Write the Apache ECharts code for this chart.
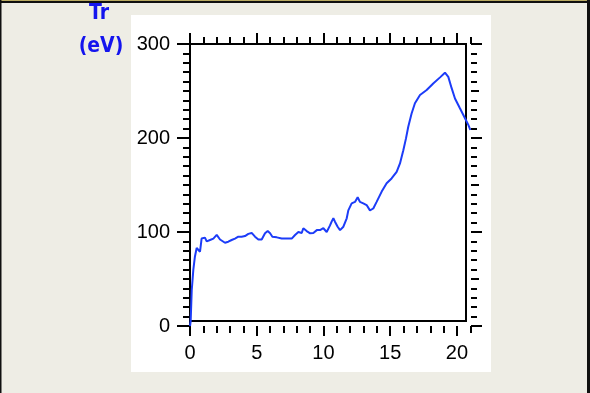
<!DOCTYPE html>
<html>
<head>
<meta charset="utf-8">
<script src="https://cdn.jsdelivr.net/npm/echarts@6/dist/echarts.min.js"></script>
<style>
html,body{margin:0;padding:0;background:#eeede5;}
#chart{width:590px;height:393px;}
</style>
</head>
<body>
<div id="chart"></div>
<script>
// ---- data (time, Tr in eV) ----
const timeVals = [0, 0.05, 0.13, 0.25, 0.37, 0.5, 0.62, 0.75, 0.87, 1.0, 1.12, 1.25, 1.37, 1.5, 1.62, 1.75, 1.87, 2.0, 2.1, 2.25, 2.37, 2.62, 2.87, 3.12, 3.37, 3.62, 3.87, 4.12, 4.37, 4.5, 4.62, 4.87, 5.12, 5.37, 5.62, 5.82, 6.0, 6.17, 6.5, 6.87, 7.12, 7.37, 7.62, 7.87, 8.12, 8.24, 8.37, 8.49, 8.74, 9.0, 9.24, 9.5, 9.74, 9.99, 10.24, 10.36, 10.49, 10.61, 10.74, 10.86, 11.06, 11.24, 11.49, 11.74, 11.86, 12.11, 12.36, 12.56, 12.73, 12.98, 13.23, 13.48, 13.73, 13.98, 14.36, 14.73, 15.1, 15.48, 15.73, 15.98, 16.18, 16.35, 16.6, 16.85, 17.23, 17.73, 18.22, 18.73, 19.1, 19.35, 19.6, 19.85, 20.22, 20.6, 20.85, 21.0];
const trVals = [0, 5, 38, 60, 74, 83, 84, 79, 93, 91.5, 94, 90, 88, 91.5, 92, 93, 95, 97, 95, 92, 90, 88.6, 89.7, 91.5, 93, 95, 95, 95.7, 98, 100, 99, 95, 92, 92, 98.6, 101, 98.6, 95, 94.3, 93, 93, 93, 93, 96.8, 100, 102, 99, 104, 101, 98.6, 99, 102, 102, 104, 100, 98.6, 107, 111, 114.6, 111, 105.6, 102, 105.6, 114.6, 123, 130.5, 132, 137, 132, 130.5, 128.7, 123, 125, 132, 143, 151.8, 157, 164, 173, 187, 199.6, 212, 226, 237, 245.7, 251, 258, 264.5, 269.5, 265, 253, 242, 231.6, 221, 214, 208.5];

// ---- axes / ticks ----
const xMin = 0, xMax = 21.05;
const yMin = 0, yMax = 300;
const xMajorTicks = [0, 5, 10, 15, 20];
const xMinorTicks = [1, 2, 3, 4, 6, 7, 8, 9, 11, 12, 13, 14, 16, 17, 18, 19, 21.05];
const yMajorTicks = [0, 100, 200, 300];
const yMidTicks = [50, 150, 250];
const yMinorTicks = [10, 20, 30, 40, 50, 60, 70, 80, 90, 110, 120, 130, 140, 150, 160, 170, 180, 190, 210, 220, 230, 240, 250, 260, 270, 280, 290];
const yRightMinorTicks = yMinorTicks.filter(v => v % 50 !== 0);
const titleLines = ['Tr', '(eV)'];

const chart = echarts.init(document.getElementById('chart'), null, {renderer: 'canvas'});

const tickStyle = {color: '#000', width: 2};
const labelFont = 'Liberation Sans, Arial, sans-serif';
function xAx(pos, ticks, len, labels) {
  return {
    type: 'value', position: pos, min: xMin, max: xMax, gridIndex: 0,
    axisLine: {show: false, onZero: false},
    axisTick: {show: true, inside: false, length: len, customValues: ticks, lineStyle: tickStyle},
    axisLabel: labels ? {show: true, customValues: ticks, fontSize: 20, margin: 17, color: '#000', fontFamily: labelFont} : {show: false},
    splitLine: {show: false}, minorTick: {show: false}
  };
}
function yAx(pos, ticks, len, labels) {
  return {
    type: 'value', position: pos, min: yMin, max: yMax, gridIndex: 0,
    axisLine: {show: false, onZero: false},
    axisTick: {show: true, inside: false, length: len, customValues: ticks, lineStyle: tickStyle},
    axisLabel: labels ? {show: true, customValues: ticks, fontSize: 20, margin: 20, color: '#000', fontFamily: labelFont} : {show: false},
    splitLine: {show: false}, minorTick: {show: false}
  };
}

const titleFont = 'bold 21px "DejaVu Sans Condensed", "DejaVu Sans", sans-serif';
const option = {
  backgroundColor: '#eeede5',
  animation: false,
  graphic: [
    {type: 'rect', z: -20, shape: {x: 131, y: 15, width: 360, height: 357}, style: {fill: '#ffffff'}, silent: true},
    {type: 'rect', z: -19, shape: {x: 0, y: 0, width: 590, height: 1}, style: {fill: '#b9aa62'}, silent: true},
    {type: 'rect', z: -19, shape: {x: 0, y: 1, width: 590, height: 2}, style: {fill: '#101010'}, silent: true},
    {type: 'rect', z: -19, shape: {x: 0, y: 0, width: 1.5, height: 393}, style: {fill: '#101010'}, silent: true},
    {type: 'rect', z: -19, shape: {x: 587, y: 0, width: 3, height: 393}, style: {fill: '#101010'}, silent: true},
    {type: 'rect', z: 1, shape: {x: 190, y: 44, width: 276, height: 277}, style: {fill: 'none', stroke: '#000', lineWidth: 2}, silent: true},
    {type: 'rect', z: 1, shape: {x: 189, y: 320, width: 2, height: 6}, style: {fill: '#000'}, silent: true},
    {type: 'text', z: 5, x: 99, y: 14, style: {text: titleLines[0], textAlign: 'center', textVerticalAlign: 'middle', fill: '#1414ee', font: titleFont}},
    {type: 'text', z: 5, x: 101, y: 47, style: {text: titleLines[1], textAlign: 'center', textVerticalAlign: 'middle', fill: '#1414ee', font: titleFont}}
  ],
  grid: [{left: 190, top: 44, width: 281, height: 282, show: false, containLabel: false}],
  xAxis: [
    xAx('bottom', xMajorTicks, 10, true),
    xAx('bottom', xMinorTicks, 7, false),
    xAx('top', xMajorTicks, 11, false),
    xAx('top', xMinorTicks, 7, false)
  ],
  yAxis: [
    yAx('left', yMajorTicks, 13, true),
    yAx('left', yMinorTicks, 7, false),
    yAx('right', yMajorTicks, 11, false),
    yAx('right', yMidTicks, 8, false),
    yAx('right', yRightMinorTicks, 6, false)
  ],
  series: [{
    type: 'line',
    xAxisIndex: 0, yAxisIndex: 0,
    data: timeVals.map((t, i) => [t, trVals[i]]),
    showSymbol: false, symbol: 'none',
    clip: false,
    z: 3,
    lineStyle: {color: '#1c3cf8', width: 2},
    smooth: false
  }]
};
chart.setOption(option);
</script>
</body>
</html>
